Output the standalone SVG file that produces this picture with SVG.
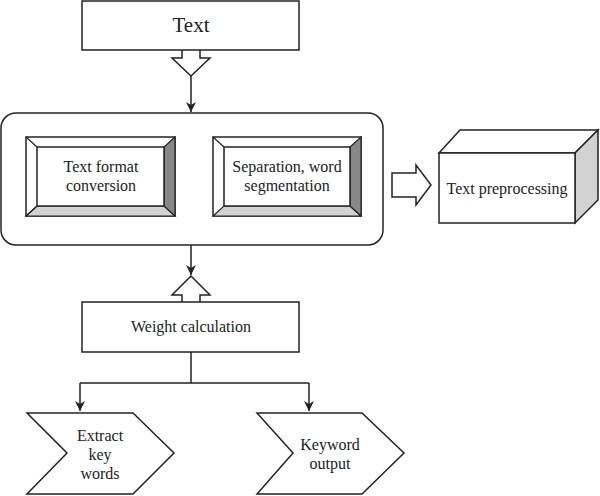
<svg xmlns="http://www.w3.org/2000/svg" width="600" height="496" viewBox="0 0 600 496">
<defs>
<style>
.s{fill:#fff;stroke:#222;stroke-width:1.5;stroke-linejoin:miter}
.l{fill:none;stroke:#222;stroke-width:1.5}
.t{font-family:"Liberation Serif",serif;font-size:16px;fill:#222;text-anchor:middle}
</style>
<marker id="ah" markerWidth="10" markerHeight="14" refX="10" refY="5" orient="auto" markerUnits="userSpaceOnUse" viewBox="0 0 10 10">
<path d="M0,0 L10,5 L0,10 L3,5 Z" fill="#222"/>
</marker>
</defs>
<rect width="600" height="496" fill="#fff"/>
<g id="connectors">
<path class="s" d="M182,50 V58 H172 L191,76 L210,58 H200 V50"/>
<line class="l" x1="191" y1="76" x2="191" y2="112" marker-end="url(#ah)"/>
<line class="l" x1="191" y1="245" x2="191" y2="275" marker-end="url(#ah)"/>
<path class="s" d="M182,302 V295 H172 L191,276 L210,295 H200 V302"/>
<path class="s" d="M392,173 H416 V165 L431,185 L416,205 V197 H392 Z"/>
<path class="l" d="M191,352 V383 M80,383 H309"/>
<line class="l" x1="80" y1="383" x2="80" y2="411" marker-end="url(#ah)"/>
<line class="l" x1="309" y1="383" x2="309" y2="411" marker-end="url(#ah)"/>
</g>
<g id="text-node">
<rect class="s" x="82" y="1" width="217" height="49"/>
<text class="t" x="191" y="32" style="font-size:21px">Text</text>
</g>
<g id="container">
<rect class="s" x="1" y="113" width="382" height="132" rx="15" ry="15"/>
</g>
<g id="format-conversion">
<rect class="s" x="26" y="137" width="149" height="79"/>
<path fill="#d2d2d2" stroke="#222" stroke-width="1.2" d="M26,216 L37,206 H164 L175,216 Z"/>
<path fill="#888" stroke="#222" stroke-width="1.2" d="M175,137 L164,147 V206 L175,216 Z"/>
<path fill="none" stroke="#222" stroke-width="1.2" d="M26,137 L37,147 M26,216 L37,206"/>
<rect class="s" x="37" y="147" width="127" height="59" stroke-width="1.2"/>
<text class="t" x="101" y="172">Text format</text>
<text class="t" x="101" y="191">conversion</text>
</g>
<g id="segmentation">
<rect class="s" x="213" y="137" width="148" height="79"/>
<path fill="#d2d2d2" stroke="#222" stroke-width="1.2" d="M213,216 L224,206 H350 L361,216 Z"/>
<path fill="#888" stroke="#222" stroke-width="1.2" d="M361,137 L350,147 V206 L361,216 Z"/>
<path fill="none" stroke="#222" stroke-width="1.2" d="M213,137 L224,147"/>
<rect class="s" x="224" y="147" width="126" height="59" stroke-width="1.2"/>
<text class="t" x="287" y="172">Separation, word</text>
<text class="t" x="287" y="191">segmentation</text>
</g>
<g id="preprocessing">
<path class="s" d="M439,153 L460,130 H598 L575,153 Z"/>
<path fill="#d2d2d2" stroke="#222" stroke-width="1.5" d="M575,153 L598,130 V200 L575,223 Z"/>
<rect class="s" x="439" y="153" width="136" height="70"/>
<text class="t" x="507" y="194">Text preprocessing</text>
</g>
<g id="weight">
<rect class="s" x="82" y="302" width="217" height="50"/>
<text class="t" x="191" y="332">Weight calculation</text>
</g>
<g id="extract">
<path class="s" d="M27,413 H133 L174,453 L133,494 H27 L67,453 Z"/>
<text class="t" x="100" y="441">Extract</text>
<text class="t" x="100" y="460">key</text>
<text class="t" x="100" y="479">words</text>
</g>
<g id="output">
<path class="s" d="M257,413 H362 L404,453 L362,494 H257 L293,453 Z"/>
<text class="t" x="330" y="450">Keyword</text>
<text class="t" x="330" y="469">output</text>
</g>
</svg>
